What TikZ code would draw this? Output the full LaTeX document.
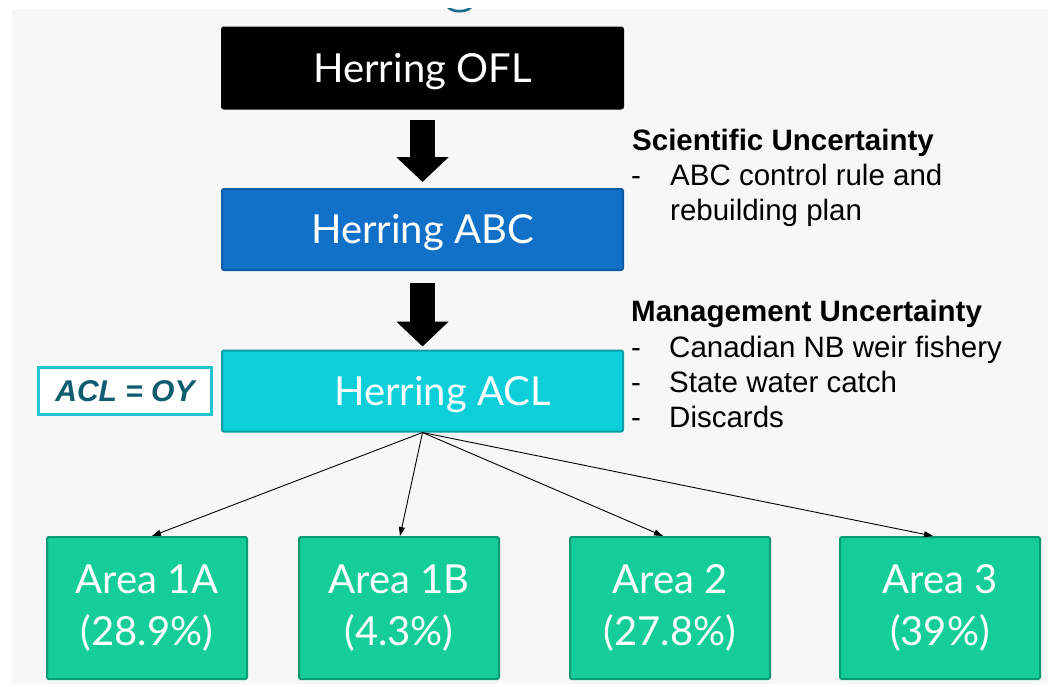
\documentclass[tikz,border=0pt]{standalone}
\usepackage{fontspec}
\setmainfont{Liberation Sans}
\newfontfamily\gill{Lato}
\usetikzlibrary{arrows.meta}
\definecolor{bggrey}{HTML}{F7F7F7}
\definecolor{ablue}{HTML}{1170C8}
\definecolor{ablueb}{HTML}{0B5BA8}
\definecolor{acyan}{HTML}{0CCFD9}
\definecolor{acyanb}{HTML}{0A9EA6}
\definecolor{agreen}{HTML}{14CD99}
\definecolor{agreenb}{HTML}{0B9A72}
\definecolor{oyborder}{HTML}{20C4CF}
\definecolor{oytext}{HTML}{0D5C70}
\definecolor{topteal}{HTML}{1B6F86}
\tikzset{
  mainbox/.style={minimum width=401pt, minimum height=81pt, line width=2pt, rounded corners=2pt,
    text=white, font=\gill\fontsize{40}{46}\selectfont, text height=28pt, text depth=0pt, inner sep=0pt},
  areabox/.style={minimum width=200pt, minimum height=142pt, line width=2pt, rounded corners=1.5pt,
    fill=agreen, draw=agreenb, text=white, align=center, font=\gill\fontsize{40}{52}\selectfont, inner sep=0pt},
  bigarrow/.style={line width=25pt, -{Triangle[length=25pt,width=51pt]}},
  thinarrow/.style={line width=0.9pt, -{Triangle[length=9pt,width=6pt]}},
  rtext/.style={anchor=base west, inner sep=0pt, font=\fontsize{29.5}{35}\selectfont},
  rhead/.style={rtext, font=\bfseries\fontsize{29.5}{35}\selectfont},
}
\begin{document}
\begin{tikzpicture}[x=1pt,y=-1pt]
\useasboundingbox (0,0) rectangle (1048,686);
\fill[white] (0,0) rectangle (1048,686);
\fill[bggrey] (12,9) rectangle (1048,684);
\fill[topteal] (447,8) .. controls (452,14) and (467,14) .. (472,8) -- (468,8) .. controls (464,10.5) and (455,10.5) .. (451,8) -- cycle;

\node[mainbox, fill=black, draw=black] (ofl) at (422.5,68) {Herring OFL};
\node[mainbox, fill=ablue, draw=ablueb] (abc) at (422.5,229.5) {Herring ABC};
\node[mainbox, fill=acyan, draw=acyanb] (acl) at (422.5,391) {\hspace*{40pt}Herring ACL};

\node[draw=oyborder, fill=white, line width=2.5pt, minimum width=173pt, minimum height=47pt, inner sep=0pt,
  text=oytext, font=\bfseries\itshape\fontsize{30}{36}\selectfont] (oy) at (125,391) {ACL = OY};

\draw[bigarrow, shorten <=10pt, shorten >=6pt] (ofl) -- (abc);
\draw[bigarrow, shorten <=12pt, shorten >=3pt] (abc) -- (acl);

\node[rhead] (sci) at (632,150) {Scientific Uncertainty};
\node[rtext] (d1) at (631,185) {-};
\node[rtext] (s1) at (670,185) {ABC control rule and};
\node[rtext] (s2) at (670,220) {rebuilding plan};
\node[rhead] (mgt) at (631,321) {Management Uncertainty};
\node[rtext] (d2) at (631,357) {-};
\node[rtext] (m1) at (669,357) {Canadian NB weir fishery};
\node[rtext] (d3) at (631,392) {-};
\node[rtext] (m2) at (669,392) {State water catch};
\node[rtext] (d4) at (631,427) {-};
\node[rtext] (m3) at (669,427) {Discards};

\node[areabox] (a1) at (147,608) {Area 1A\\(28.9\%)};
\node[areabox] (a2) at (399,608) {Area 1B\\(4.3\%)};
\node[areabox] (a3) at (670,608) {Area 2\\(27.8\%)};
\node[areabox] (a4) at (940,608) {Area 3\\(39\%)};

\draw[thinarrow] (acl.south) -- ([xshift=5pt]a1.north);
\draw[thinarrow] (acl.south) -- ([xshift=1pt]a2.north);
\draw[thinarrow] (acl.south) -- ([xshift=-7pt]a3.north);
\draw[thinarrow] (acl.south) -- ([xshift=-7pt]a4.north);
\end{tikzpicture}
\end{document}
